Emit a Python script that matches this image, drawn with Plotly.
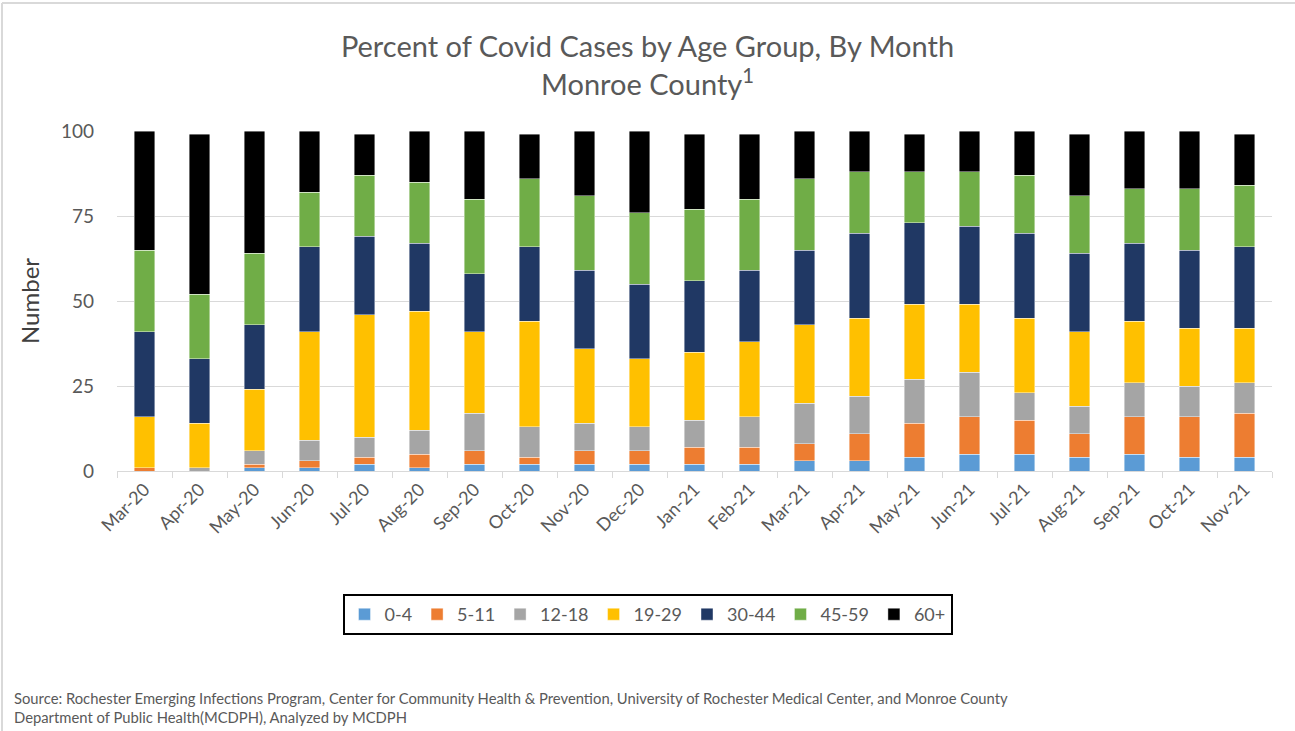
import plotly.graph_objects as go

months = ["Mar-20", "Apr-20", "May-20", "Jun-20", "Jul-20", "Aug-20", "Sep-20", "Oct-20",
          "Nov-20", "Dec-20", "Jan-21", "Feb-21", "Mar-21", "Apr-21", "May-21", "Jun-21",
          "Jul-21", "Aug-21", "Sep-21", "Oct-21", "Nov-21"]

age_0_4 =   [0, 0, 1, 1, 2, 1, 2, 2, 2, 2, 2, 2, 3, 3, 4, 5, 5, 4, 5, 4, 4]
age_5_11 =  [1, 0, 1, 2, 2, 4, 4, 2, 4, 4, 5, 5, 5, 8, 10, 11, 10, 7, 11, 12, 13]
age_12_18 = [0, 1, 4, 6, 6, 7, 11, 9, 8, 7, 8, 9, 12, 11, 13, 13, 8, 8, 10, 9, 9]
age_19_29 = [15, 13, 18, 32, 36, 35, 24, 31, 22, 20, 20, 22, 23, 23, 22, 20, 22, 22, 18, 17, 16]
age_30_44 = [25, 19, 19, 25, 23, 20, 17, 22, 23, 22, 21, 21, 22, 25, 24, 23, 25, 23, 23, 23, 24]
age_45_59 = [24, 19, 21, 16, 18, 18, 22, 20, 22, 21, 21, 21, 21, 18, 15, 16, 17, 17, 16, 18, 18]
age_60p =   [35, 47, 36, 18, 12, 15, 20, 13, 19, 24, 22, 19, 14, 12, 11, 12, 13, 18, 17, 17, 15]

series = [
    ("0-4", age_0_4, "#5B9BD5"),
    ("5-11", age_5_11, "#ED7D31"),
    ("12-18", age_12_18, "#A5A5A5"),
    ("19-29", age_19_29, "#FFC000"),
    ("30-44", age_30_44, "#203864"),
    ("45-59", age_45_59, "#70AD47"),
    ("60+", age_60p, "#000000"),
]

FONT = "Lato"
GREY = "#595959"

fig = go.Figure()
for name, vals, color in series:
    fig.add_trace(go.Bar(
        x=months, y=vals, name=name,
        marker=dict(color=color, line=dict(color="rgba(255,255,255,0.7)", width=0.6)),
    ))

W, H = 1295, 731
L, R, T, B = 117, 23, 131, 260
pw, ph = W - L - R, H - T - B

def px_x(x):
    return (x - L) / pw

def px_y(y):
    return (H - B - y) / ph

fig.update_layout(
    width=W, height=H,
    barmode="stack",
    bargap=0.63,
    plot_bgcolor="white",
    paper_bgcolor="white",
    margin=dict(l=L, r=R, t=T, b=B, autoexpand=False),
    font=dict(family=FONT, color=GREY),
    title=dict(
        text="Percent of Covid Cases by Age Group, By Month<br>Monroe County<sup>1</sup>",
        x=0.5, xref="container", xanchor="center",
        y=1 - 57 / H, yref="container", yanchor="top",
        font=dict(family=FONT, size=29, color=GREY),
    ),
    legend=dict(
        orientation="h",
        x=0.5, xref="container", xanchor="center",
        y=1 - 594 / H, yref="container", yanchor="top",
        bordercolor="#000000", borderwidth=2,
        font=dict(family=FONT, size=18, color=GREY),
        itemwidth=30,
        traceorder="normal",
    ),
    xaxis=dict(
        tickangle=-45,
        tickfont=dict(family=FONT, size=18, color=GREY),
        showline=True, linecolor="#D9D9D9", linewidth=1,
        ticks="outside", tickson="boundaries", ticklen=6, tickcolor="#D9D9D9",
        showgrid=False,
    ),
    yaxis=dict(
        range=[0, 100],
        tickvals=[0, 25, 50, 75, 100],
        tickfont=dict(family=FONT, size=19, color=GREY),
        gridcolor="#D9D9D9", gridwidth=1,
        zeroline=False,
        title=dict(text="Number", font=dict(family=FONT, size=24, color="#404040"), standoff=14),
        ticklabelstandoff=22,
    ),
    shapes=[
        dict(type="line", xref="paper", yref="paper",
             x0=px_x(2), x1=px_x(2), y0=px_y(3), y1=px_y(H),
             line=dict(color="#D9D9D9", width=2)),
        dict(type="line", xref="paper", yref="paper",
             x0=px_x(2), x1=px_x(W), y0=px_y(3), y1=px_y(3),
             line=dict(color="#D9D9D9", width=2)),
    ],
    annotations=[
        dict(
            text="Source: Rochester Emerging Infections Program, Center for Community Health &amp; Prevention, University of Rochester Medical Center, and Monroe County<br>Department of Public Health(MCDPH), Analyzed by MCDPH",
            xref="paper", yref="paper",
            x=px_x(12), y=px_y(707), xanchor="left", yanchor="middle", align="left",
            showarrow=False,
            font=dict(family=FONT, size=14.8, color=GREY),
        )
    ],
)

fig.write_html(
    "out.html",
    config={"displayModeBar": False},
    post_script="document.body.style.margin='0px';document.body.style.overflow='hidden';",
)
